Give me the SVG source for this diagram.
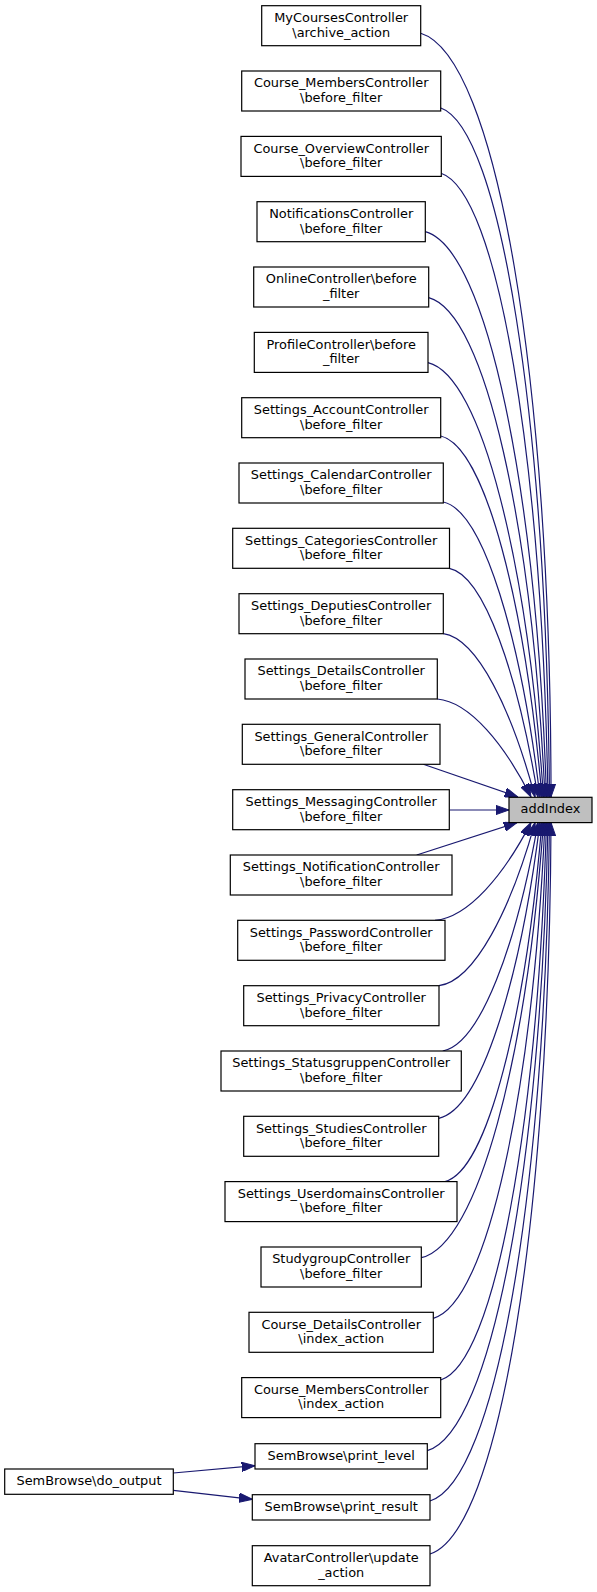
<svg xmlns="http://www.w3.org/2000/svg" width="597" height="1592" viewBox="0 0 597 1592">
<style>
.n rect{fill:#ffffff;stroke:#000000;stroke-width:1.2}
.root rect{fill:#bfbfbf;stroke:#000000;stroke-width:1.2}
text{font-family:"DejaVu Sans",sans-serif;font-size:12.9px;fill:#000000;text-anchor:middle}
.e path{fill:none;stroke:#191970;stroke-width:1.2;marker-end:url(#ah)}
</style>
<defs>
<marker id="ah" markerUnits="userSpaceOnUse" viewBox="0 0 13.3 9.4" markerWidth="13.3" markerHeight="9.4" refX="13.3" refY="4.7" orient="auto">
<path d="M0,0 L13.3,4.7 L0,9.4 z" fill="#191970" stroke="#191970" stroke-width="1"/>
</marker>
</defs>
<g id="edges" class="e">
<path d="M420.7,33.3 C496.3,56.2 551,377 551,797"/>
<path d="M440.3,107.7 C500.8,128.4 546.1,419.3 549.5,797"/>
<path d="M441,173.3 C497.8,192 541.7,456.5 548,797"/>
<path d="M425.3,231.7 C487.2,248.7 536.4,489.5 546.5,797"/>
<path d="M428.7,297.7 C485.6,312.7 532.1,526.4 545,797"/>
<path d="M428,362.7 C481.8,375.7 527.4,562.5 543.5,797"/>
<path d="M440.7,436 C485.4,446.8 524.9,602.8 542,797"/>
<path d="M443.3,502 C483.7,510.9 520.9,638.9 540,797"/>
<path d="M449.3,568.3 C484.3,575.2 518,674.9 538,797"/>
<path d="M443.3,633.7 C477.5,638.6 511.8,710.1 535,797"/>
<path d="M437.3,699 C470.1,701.9 504.8,745.1 531,797"/>
<path d="M423.3,764.3 L518,797"/>
<path d="M449.3,810 L509,810"/>
<path d="M416.7,855 L517,822.6"/>
<path d="M435,920.3 C468.6,917.4 504.1,874.4 531,822.6"/>
<path d="M439,985.7 C474.8,980.8 510.7,909.4 535,822.6"/>
<path d="M442.7,1051 C480.3,1044.1 516.6,944.6 538,822.6"/>
<path d="M438.7,1118.3 C481,1109.4 520,981.1 540,822.6"/>
<path d="M445,1181.6 C487.7,1170.8 525.5,1015.7 542,822.6"/>
<path d="M421.3,1257.7 C478.2,1244.6 526.6,1057.6 543.5,822.6"/>
<path d="M433.3,1318.3 C487.7,1303.4 532.4,1091.3 545,822.6"/>
<path d="M440.7,1380 C494.6,1363.3 537.3,1125.8 546.5,822.6"/>
<path d="M427.3,1450.7 C491.6,1431.9 541.1,1165.5 548,822.6"/>
<path d="M430,1501 C495.7,1480.6 545.2,1193.7 549.5,822.6"/>
<path d="M430,1554 C498.8,1532.1 549.3,1224.1 551,822.6"/>
<path d="M173.3,1473 L255,1465.7"/>
<path d="M173.3,1490.3 L252.3,1499.3"/>
</g>
<g id="addIndex" class="root"><rect x="509" y="797.3" width="83" height="25.3"/><text x="550.5" y="813.3">addIndex</text></g>
<g id="n0" class="n"><rect x="261.7" y="5.7" width="159" height="40"/><text x="341.2" y="22.1">MyCoursesController</text><text x="341.2" y="36.5">\archive_action</text></g>
<g id="n1" class="n"><rect x="241.7" y="71" width="199" height="40"/><text x="341.2" y="87.4">Course_MembersController</text><text x="341.2" y="101.8">\before_filter</text></g>
<g id="n2" class="n"><rect x="241" y="136.4" width="200.3" height="40"/><text x="341.2" y="152.8">Course_OverviewController</text><text x="341.2" y="167.2">\before_filter</text></g>
<g id="n3" class="n"><rect x="257" y="201.7" width="168.3" height="40"/><text x="341.2" y="218.1">NotificationsController</text><text x="341.2" y="232.5">\before_filter</text></g>
<g id="n4" class="n"><rect x="253.7" y="267" width="175" height="40"/><text x="341.2" y="283.4">OnlineController\before</text><text x="341.2" y="297.8">_filter</text></g>
<g id="n5" class="n"><rect x="254.3" y="332.4" width="173.7" height="40"/><text x="341.2" y="348.8">ProfileController\before</text><text x="341.2" y="363.2">_filter</text></g>
<g id="n6" class="n"><rect x="241.7" y="397.7" width="199" height="40"/><text x="341.2" y="414.1">Settings_AccountController</text><text x="341.2" y="428.5">\before_filter</text></g>
<g id="n7" class="n"><rect x="239" y="463" width="204.3" height="40"/><text x="341.2" y="479.4">Settings_CalendarController</text><text x="341.2" y="493.8">\before_filter</text></g>
<g id="n8" class="n"><rect x="232.7" y="528.3" width="216.8" height="40"/><text x="341.2" y="544.7">Settings_CategoriesController</text><text x="341.2" y="559.1">\before_filter</text></g>
<g id="n9" class="n"><rect x="239" y="593.7" width="204.3" height="40"/><text x="341.2" y="610.1">Settings_DeputiesController</text><text x="341.2" y="624.5">\before_filter</text></g>
<g id="n10" class="n"><rect x="245" y="659" width="192.3" height="40"/><text x="341.2" y="675.4">Settings_DetailsController</text><text x="341.2" y="689.8">\before_filter</text></g>
<g id="n11" class="n"><rect x="242.3" y="724.3" width="197.7" height="40"/><text x="341.2" y="740.7">Settings_GeneralController</text><text x="341.2" y="755.1">\before_filter</text></g>
<g id="n12" class="n"><rect x="232.7" y="789.7" width="216.6" height="40"/><text x="341.2" y="806.1">Settings_MessagingController</text><text x="341.2" y="820.5">\before_filter</text></g>
<g id="n13" class="n"><rect x="230.3" y="855" width="221.7" height="40"/><text x="341.2" y="871.4">Settings_NotificationController</text><text x="341.2" y="885.8">\before_filter</text></g>
<g id="n14" class="n"><rect x="237.7" y="920.3" width="207.3" height="40"/><text x="341.2" y="936.7">Settings_PasswordController</text><text x="341.2" y="951.1">\before_filter</text></g>
<g id="n15" class="n"><rect x="243.7" y="985.7" width="195.3" height="40"/><text x="341.2" y="1002.1">Settings_PrivacyController</text><text x="341.2" y="1016.5">\before_filter</text></g>
<g id="n16" class="n"><rect x="221" y="1051" width="240.3" height="40"/><text x="341.2" y="1067.4">Settings_StatusgruppenController</text><text x="341.2" y="1081.8">\before_filter</text></g>
<g id="n17" class="n"><rect x="243.7" y="1116.3" width="195" height="40"/><text x="341.2" y="1132.7">Settings_StudiesController</text><text x="341.2" y="1147.1">\before_filter</text></g>
<g id="n18" class="n"><rect x="225" y="1181.6" width="232" height="40"/><text x="341.2" y="1198">Settings_UserdomainsController</text><text x="341.2" y="1212.4">\before_filter</text></g>
<g id="n19" class="n"><rect x="261" y="1247" width="160.3" height="40"/><text x="341.2" y="1263.4">StudygroupController</text><text x="341.2" y="1277.8">\before_filter</text></g>
<g id="n20" class="n"><rect x="249" y="1312.3" width="184.3" height="40"/><text x="341.2" y="1328.7">Course_DetailsController</text><text x="341.2" y="1343.1">\index_action</text></g>
<g id="n21" class="n"><rect x="241.7" y="1377.6" width="199" height="40"/><text x="341.2" y="1394">Course_MembersController</text><text x="341.2" y="1408.4">\index_action</text></g>
<g id="n22" class="n"><rect x="255" y="1443.7" width="172.3" height="25.3"/><text x="341.2" y="1460">SemBrowse\print_level</text></g>
<g id="n23" class="n"><rect x="252.3" y="1494.7" width="177.7" height="25.3"/><text x="341.2" y="1511">SemBrowse\print_result</text></g>
<g id="n24" class="n"><rect x="252.3" y="1545.7" width="177.7" height="40"/><text x="341.2" y="1562.1">AvatarController\update</text><text x="341.2" y="1576.5">_action</text></g>
<g id="n25" class="n"><rect x="4.7" y="1469" width="168.6" height="25.3"/><text x="89" y="1485.3">SemBrowse\do_output</text></g>
</svg>
